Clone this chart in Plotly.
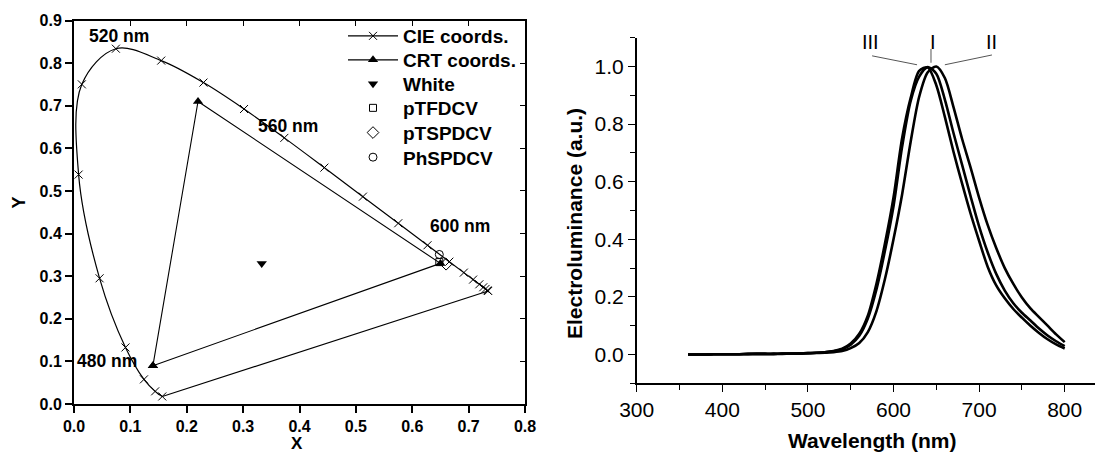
import plotly.graph_objects as go

# ---------------- Left panel: CIE 1931 chromaticity ----------------
cie_nm = [450, 460, 470, 480, 490, 500, 510, 520, 530, 540, 550, 560,
          570, 580, 590, 600, 610, 620, 630, 640, 650, 660, 670, 680]
cie_x = [0.1566, 0.1440, 0.1241, 0.0913, 0.0454, 0.0082, 0.0139, 0.0743,
         0.1547, 0.2296, 0.3016, 0.3731, 0.4441, 0.5125, 0.5752, 0.6270,
         0.6658, 0.6915, 0.7079, 0.7190, 0.7260, 0.7300, 0.7334, 0.7347]
cie_y = [0.0177, 0.0297, 0.0578, 0.1327, 0.2950, 0.5384, 0.7502, 0.8338,
         0.8059, 0.7543, 0.6923, 0.6245, 0.5547, 0.4866, 0.4242, 0.3725,
         0.3340, 0.3083, 0.2920, 0.2809, 0.2740, 0.2700, 0.2666, 0.2653]

crt_x = [0.14, 0.22, 0.65, 0.14]
crt_y = [0.09, 0.71, 0.33, 0.09]
white_x = [0.333]
white_y = [0.330]
ptfdcv_x = [0.648]
ptfdcv_y = [0.333]
ptspdcv_x = [0.660]
ptspdcv_y = [0.328]
phspdcv_x = [0.648]
phspdcv_y = [0.351]

locus_labels = ["520 nm", "560 nm", "600 nm", "480 nm"]
locus_label_x = [0.080, 0.379, 0.684, 0.059]
locus_label_y = [0.864, 0.652, 0.418, 0.102]

# ---------------- Right panel: EL spectra ----------------
wl = list(range(360, 801, 10))
el_III = [0.000, 0.000, 0.000, 0.001, 0.001, 0.001, 0.001, 0.002, 0.002,
          0.002, 0.002, 0.003, 0.003, 0.004, 0.005, 0.006, 0.008, 0.012,
          0.020, 0.038, 0.072, 0.135, 0.245, 0.385, 0.545, 0.750, 0.890,
          0.985, 0.997, 0.935, 0.825, 0.705, 0.595, 0.490, 0.395, 0.305,
          0.240, 0.195, 0.158, 0.128, 0.100, 0.075, 0.053, 0.035, 0.021]
el_I = [0.000, 0.000, 0.000, 0.001, 0.001, 0.001, 0.001, 0.002, 0.002,
        0.002, 0.002, 0.003, 0.003, 0.004, 0.005, 0.006, 0.008, 0.011,
        0.018, 0.034, 0.065, 0.125, 0.225, 0.360, 0.515, 0.720, 0.880,
        0.965, 0.998, 0.975, 0.885, 0.770, 0.660, 0.550, 0.445, 0.355,
        0.280, 0.222, 0.178, 0.145, 0.118, 0.090, 0.066, 0.046, 0.029]
el_II = [0.000, 0.000, 0.000, 0.001, 0.001, 0.001, 0.001, 0.001, 0.002,
         0.002, 0.002, 0.002, 0.003, 0.003, 0.004, 0.005, 0.006, 0.008,
         0.012, 0.022, 0.040, 0.078, 0.150, 0.262, 0.400, 0.555, 0.738,
         0.895, 0.980, 1.000, 0.960, 0.860, 0.750, 0.650, 0.545, 0.450,
         0.370, 0.300, 0.245, 0.198, 0.160, 0.130, 0.100, 0.070, 0.043]

peak_labels = ["III", "I", "II"]
peak_label_x = [573.7, 646.1, 713.9]
peak_label_y = [1.086, 1.086, 1.086]

W, H = 1095, 452
FONT = "Liberation Sans, Arial, sans-serif"

fig = go.Figure()

fig.add_trace(go.Scatter(
    x=cie_x, y=cie_y, mode="lines+markers", name="CIE coords.",
    line=dict(color="black", width=1.2, shape="spline", smoothing=1.0),
    marker=dict(symbol="x-thin-open", size=8, color="black",
                line=dict(color="black", width=1)),
    xaxis="x", yaxis="y", legend="legend", cliponaxis=False))
fig.add_trace(go.Scatter(
    x=[cie_x[-1], cie_x[0]], y=[cie_y[-1], cie_y[0]], mode="lines",
    line=dict(color="black", width=1.2), showlegend=False,
    xaxis="x", yaxis="y", hoverinfo="skip"))
fig.add_trace(go.Scatter(
    x=crt_x, y=crt_y, mode="lines+markers", name="CRT coords.",
    line=dict(color="black", width=1.1),
    marker=dict(symbol="triangle-up", size=9, color="black"),
    xaxis="x", yaxis="y", legend="legend2"))
fig.add_trace(go.Scatter(
    x=white_x, y=white_y, mode="markers", name="White",
    marker=dict(symbol="triangle-down", size=9, color="black"),
    xaxis="x", yaxis="y", legend="legend3"))
fig.add_trace(go.Scatter(
    x=ptfdcv_x, y=ptfdcv_y, mode="markers", name="pTFDCV",
    marker=dict(symbol="square-open", size=7, color="black",
                line=dict(width=1)),
    xaxis="x", yaxis="y", legend="legend4"))
fig.add_trace(go.Scatter(
    x=ptspdcv_x, y=ptspdcv_y, mode="markers", name="pTSPDCV",
    marker=dict(symbol="diamond-open", size=9, color="black",
                line=dict(width=1)),
    xaxis="x", yaxis="y", legend="legend5"))
fig.add_trace(go.Scatter(
    x=phspdcv_x, y=phspdcv_y, mode="markers", name="PhSPDCV",
    marker=dict(symbol="circle-open", size=8, color="black",
                line=dict(width=1)),
    xaxis="x", yaxis="y", legend="legend6"))

fig.add_trace(go.Scatter(x=[], y=[], xaxis="x3", yaxis="y",
                         showlegend=False, hoverinfo="skip"))
fig.add_trace(go.Scatter(x=[], y=[], xaxis="x", yaxis="y3",
                         showlegend=False, hoverinfo="skip"))

for ys in (el_I, el_II, el_III):
    fig.add_trace(go.Scatter(
        x=wl, y=ys, mode="lines", showlegend=False,
        line=dict(color="black", width=2.6, shape="spline", smoothing=0.8),
        xaxis="x2", yaxis="y2"))

L_x0, L_x1, L_yt, L_yb = 74, 525, 20.5, 404
R_x0, R_yt, R_yb = 636.7, 37.7, 383.3
R_xmax = 300 + (W - R_x0) / 0.856

bold = dict(family=FONT, size=16, color="black", weight="bold")
reg21 = dict(family=FONT, size=21, color="black")

layout = dict(
    width=W, height=H, margin=dict(l=0, r=0, t=0, b=0, autoexpand=False),
    paper_bgcolor="white", plot_bgcolor="white",
    font=dict(family=FONT, color="black"),
    xaxis=dict(domain=[L_x0 / W, L_x1 / W], anchor="y", range=[0, 0.8],
               tickvals=[0, 0.1, 0.2, 0.3, 0.4, 0.5, 0.6, 0.7, 0.8],
               ticktext=["0.0", "0.1", "0.2", "0.3", "0.4", "0.5", "0.6", "0.7", "0.8"],
               ticks="outside", ticklen=7, tickwidth=1.5, tickcolor="black",
               showline=True, linewidth=2, linecolor="black", mirror=True,
               showgrid=False, zeroline=False, tickfont=bold, automargin=False),
    yaxis=dict(domain=[1 - L_yb / H, 1 - L_yt / H], anchor="x", range=[0, 0.9],
               tickvals=[0, 0.1, 0.2, 0.3, 0.4, 0.5, 0.6, 0.7, 0.8, 0.9],
               ticktext=["0.0", "0.1", "0.2", "0.3", "0.4", "0.5", "0.6", "0.7", "0.8", "0.9"],
               ticks="outside", ticklen=7, tickwidth=1.5, tickcolor="black",
               showline=True, linewidth=2, linecolor="black", mirror=True,
               showgrid=False, zeroline=False, tickfont=bold, automargin=False),
    xaxis3=dict(overlaying="x", anchor="y", side="top", range=[0, 0.8],
                tickvals=[0.1, 0.2, 0.3, 0.4, 0.5, 0.6, 0.7],
                ticks="inside", ticklen=5, tickwidth=1.2, tickcolor="black",
                showticklabels=False, showgrid=False, zeroline=False,
                showline=False, automargin=False),
    yaxis3=dict(overlaying="y", anchor="x", side="right", range=[0, 0.9],
                tickvals=[0.1, 0.2, 0.3, 0.4, 0.5, 0.6, 0.7, 0.8],
                ticks="inside", ticklen=5, tickwidth=1.2, tickcolor="black",
                showticklabels=False, showgrid=False, zeroline=False,
                showline=False, automargin=False),
    xaxis2=dict(domain=[R_x0 / W, 1.0], anchor="y2", range=[300, R_xmax],
                tickvals=[300, 400, 500, 600, 700, 800],
                ticks="outside", ticklen=7, tickwidth=1.3, tickcolor="black",
                minor=dict(tickvals=[350, 450, 550, 650, 750], ticks="outside",
                           ticklen=5, tickwidth=1.3, tickcolor="black"),
                showline=True, linewidth=1.5, linecolor="black",
                showgrid=False, zeroline=False, tickfont=reg21, automargin=False),
    yaxis2=dict(domain=[1 - R_yb / H, 1 - R_yt / H], anchor="x2", range=[-0.1, 1.1],
                tickvals=[0.0, 0.2, 0.4, 0.6, 0.8, 1.0],
                ticktext=["0.0", "0.2", "0.4", "0.6", "0.8", "1.0"],
                ticks="outside", ticklen=7, tickwidth=1.3, tickcolor="black",
                minor=dict(tickvals=[-0.1, 0.1, 0.3, 0.5, 0.7, 0.9, 1.1], ticks="outside",
                           ticklen=5, tickwidth=1.3, tickcolor="black"),
                showline=True, linewidth=1.5, linecolor="black",
                showgrid=False, zeroline=False, tickfont=reg21, automargin=False),
)

legend_rows = [36, 60, 84, 108, 132.7, 157.3]
legend_names = ["legend", "legend2", "legend3", "legend4", "legend5", "legend6"]
for nm, py in zip(legend_names, legend_rows):
    layout[nm] = dict(x=343 / W, xanchor="left", y=1 - py / H, yanchor="middle",
                      bgcolor="rgba(0,0,0,0)", borderwidth=0, itemwidth=50,
                      font=dict(family=FONT, size=19, color="black", weight="bold"))

fig.update_layout(**layout)

for t, x, y in zip(locus_labels, locus_label_x, locus_label_y):
    fig.add_annotation(x=x, y=y, xref="x", yref="y", text=t, showarrow=False,
                       xanchor="center", yanchor="middle",
                       font=dict(family=FONT, size=17.5, color="black", weight="bold"))

for t, x, y in zip(peak_labels, peak_label_x, peak_label_y):
    fig.add_annotation(x=x, y=y, xref="x2", yref="y2", text=t, showarrow=False,
                       xanchor="center", yanchor="middle",
                       font=dict(family=FONT, size=20, color="black"))

fig.add_shape(type="line", xref="x2", yref="y2", x0=575, y0=1.037, x1=627.5, y1=1.006,
              line=dict(color="#555", width=1))
fig.add_shape(type="line", xref="x2", yref="y2", x0=643.8, y0=1.061, x1=643.8, y1=1.013,
              line=dict(color="#555", width=1))
fig.add_shape(type="line", xref="x2", yref="y2", x0=660, y0=1.006, x1=715, y1=1.040,
              line=dict(color="#555", width=1))

# axis titles (x, y in pixels; anchor; vertical shift)
title_specs = [
    ("X", 297, 452, 0, 17, "bottom", -2),
    ("Y", 18.5, 203, -90, 18, "middle", 0),
    ("Wavelength (nm)", 871.7, 440, 0, 21, "middle", 0),
    ("Electroluminance (a.u.)", 574, 224, -90, 21, "middle", 0),
]
for t, px, py, ang, sz, ya, ys_ in title_specs:
    fig.add_annotation(x=px / W, y=1 - py / H, xref="paper", yref="paper", text=t,
                       textangle=ang, showarrow=False, xanchor="center", yanchor=ya,
                       borderpad=0, yshift=ys_,
                       font=dict(family=FONT, size=sz, color="black", weight="bold"))

fig.write_html("out.html", config={"displayModeBar": False},
               post_script="document.body.style.margin='0px';")
